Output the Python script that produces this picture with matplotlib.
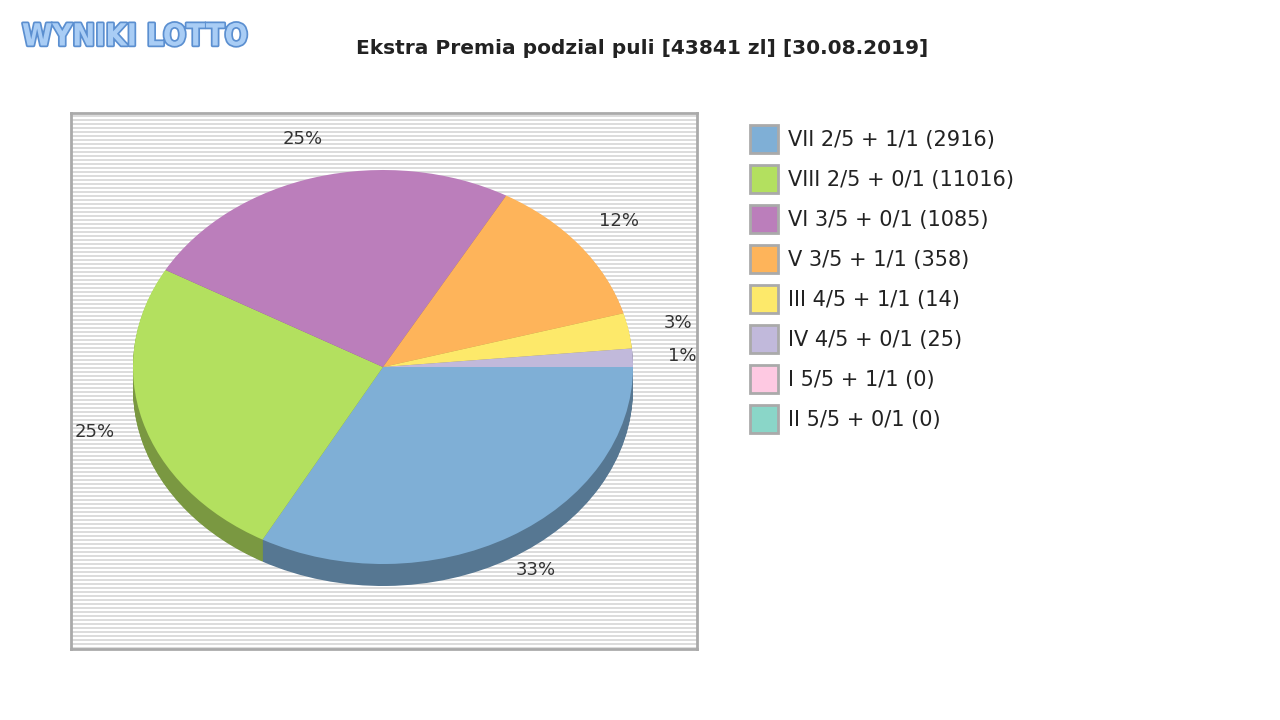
import matplotlib.pyplot as plt
import matplotlib.patheffects as pe
from matplotlib.patches import Rectangle
import matplotlib.colors as mcolors

# Data
labels = ['VII 2/5 + 1/1 (2916)', 'VIII 2/5 + 0/1 (11016)', 'VI 3/5 + 0/1 (1085)',
          'V 3/5 + 1/1 (358)', 'III 4/5 + 1/1 (14)', 'IV 4/5 + 0/1 (25)',
          'I 5/5 + 1/1 (0)', 'II 5/5 + 0/1 (0)']
shares = [33.0, 25.2, 25.0, 12.4, 2.9, 1.5, 0, 0]
colors = ['#7fafd6', '#b3e05f', '#bb7ebb', '#feb45a', '#fde96a', '#c1b9db', '#fec9e2', '#8ad6c8']
title = 'Ekstra Premia podzial puli [43841 zl] [30.08.2019]'

W, H = 1280, 720
fig = plt.figure(figsize=(12.8, 7.2), dpi=100)
fig.patch.set_facecolor('white')

# plot box in pixels
x0, x1, y0, y1 = 71, 697, 113, 649
ax = fig.add_axes([x0 / W, 1 - y1 / H, (x1 - x0) / W, (y1 - y0) / H])
s = 250 / 197  # ellipse squash
ax.set_facecolor('#ffffff')
for py in range(y0 + 2, y1, 4):
    ax.axhspan((H - py) * s, (H - py - 2) * s, color='#dcdcdc', lw=0, zorder=0)

cx, cy = 383, (H - 367) * s
depth = 22

def darker(c, f=0.68):
    r, g, b = mcolors.to_rgb(c)
    return (r * f, g * f, b * f)

vals = [v if v > 0 else 1e-9 for v in shares]
dark = [darker(c) for c in colors]
for d in range(depth, 0, -1):
    ax.pie(vals, colors=dark, startangle=0, counterclock=False, radius=250,
           center=(cx, cy - d * s), frame=True, wedgeprops=dict(lw=0))
ax.pie(vals, colors=colors, startangle=0, counterclock=False, radius=250,
       center=(cx, cy), frame=True, wedgeprops=dict(lw=0),
       autopct=lambda p: f'{p:.0f}%' if p > 0.5 else '', pctdistance=1.2,
       textprops=dict(fontsize=13, color='#333333'))
ax.set_xlim(x0, x1)
ax.set_ylim((H - y1) * s, (H - y0) * s)
ax.set_aspect('auto')
ax.set_xticks([])
ax.set_yticks([])
for sp in ax.spines.values():
    sp.set_color('#aaaaaa')
    sp.set_linewidth(2)

# title
fig.text(642 / W, 1 - 48 / H, title, ha='center', va='center', fontsize=14.5,
         fontweight='bold', color='#222222')

# logo
fig.text(22 / W, 1 - 37 / H, 'WYNIKI LOTTO', ha='left', va='center', fontsize=22,
         fontweight='bold', color='#a9cdf5', fontstretch='condensed',
         path_effects=[pe.withStroke(linewidth=2.5, foreground='#5b8fd0')])

# legend
for i, (lab, c) in enumerate(zip(labels, colors)):
    py = 139 + 40 * i
    fig.patches.append(Rectangle((750 / W, 1 - (py + 14) / H), 28 / W, 28 / H,
                                 transform=fig.transFigure, facecolor=c,
                                 edgecolor='#aaaaaa', lw=2))
    fig.text(788 / W, 1 - (py + 1) / H, lab, ha='left', va='center', fontsize=15,
             color='#222222')

fig.savefig('out.png', dpi=100)
